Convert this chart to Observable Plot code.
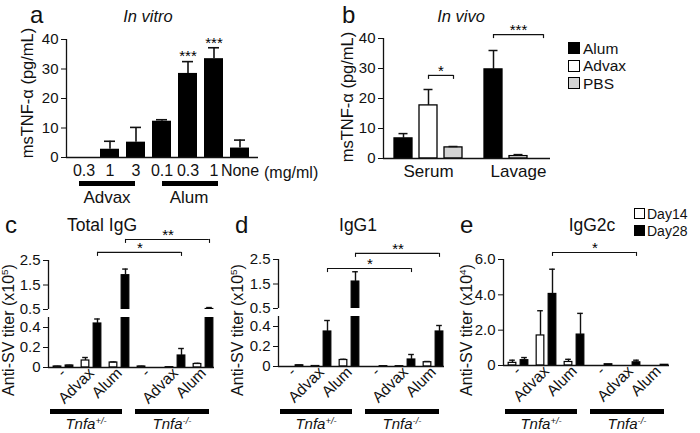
<!DOCTYPE html>
<html><head><meta charset="utf-8">
<script src="https://cdn.jsdelivr.net/npm/d3@7"></script>
<script src="https://cdn.jsdelivr.net/npm/@observablehq/plot@0.6"></script>
<style>
html,body{margin:0;padding:0;background:#fff;}
#fig{position:relative;width:700px;height:433px;overflow:hidden;background:#fff;font-family:"Liberation Sans",Arial,Helvetica,sans-serif;color:#111;}
#fig svg{position:absolute;left:0;top:0;}
.t{position:absolute;white-space:nowrap;line-height:0.9;}
.t sup{font-size:0.62em;vertical-align:0.55em;line-height:0;}
.sw{position:absolute;box-sizing:border-box;border:1.3px solid #000;}
.ul{position:absolute;background:#000;}
</style></head><body><div id="fig"></div>
<script>
// ---------------- data ----------------
// panel a (in vitro)
const aKeys = ["Advax 0.3", "Advax 1", "Advax 3", "Alum 0.1", "Alum 0.3", "Alum 1", "None"];
const aTickLabels = ["0.3", "1", "3", "0.1", "0.3", "1", "None"];
const aMean = [0, 2.8, 5.2, 12.3, 28.5, 33.5, 3.2];
const aErr = [0, 5.5, 10.2, 12.8, 32.5, 37.2, 5.9];
const aSig = ["", "", "", "", "***", "***", ""];

// panel b (in vivo)
const bSamples = ["Serum", "Lavage"];
const bAdjuvants = ["Alum", "Advax", "PBS"];
const bSerumMean = [6.7, 17.7, 3.7];
const bSerumErr = [8.3, 23.0, 4.0];
const bLavageMean = [29.7, 0.8, 0];
const bLavageErr = [36.0, 1.3, 0];
const bSig = [
  {sample: "Serum", from: "Advax", to: "PBS", y: 27.7, label: "*"},
  {sample: "Lavage", from: "Alum", to: "PBS", y: 41.3, label: "***"}
];

// panels c-e
const gKeys = ["+/- none", "+/- Advax", "+/- Alum", "-/- none", "-/- Advax", "-/- Alum"];
const gLabels = ["-", "Advax", "Alum", "-", "Advax", "Alum"];
const days = ["Day14", "Day28"];

const cDay14 = [0.01, 0.07, 0.05, 0.01, 0.003, 0.035];
const cDay14Err = [0.012, 0.10, 0.055, 0.012, 0.004, 0.042];
const cDay28 = [0.02, 0.44, 1.9, 0, 0.12, 0.52];
const cDay28Err = [0.022, 0.485, 2.15, 0, 0.19, 0.58];
const cSig = [
  {from: "+/- Advax", to: "-/- Advax", y: 2.83, label: "*"},
  {from: "+/- Alum", to: "-/- Alum", y: 3.36, label: "**"}
];

const dDay14 = [0, 0.005, 0.065, 0, 0.003, 0.043];
const dDay14Err = [0, 0.006, 0.072, 0, 0.004, 0.05];
const dDay28 = [0.012, 0.35, 1.6, 0.003, 0.07, 0.35];
const dDay28Err = [0.014, 0.46, 2.0, 0.004, 0.12, 0.41];
const dSig = [
  {from: "+/- Advax", to: "-/- Advax", y: 2.13, label: "*"},
  {from: "+/- Alum", to: "-/- Alum", y: 2.75, label: "**"}
];

const eDay14 = [0.15, 1.7, 0.2, 0, 0, 0];
const eDay14Err = [0.3, 3.1, 0.35, 0, 0, 0];
const eDay28 = [0.3, 4.05, 1.75, 0.07, 0.18, 0.04];
const eDay28Err = [0.45, 5.45, 2.95, 0.07, 0.3, 0.04];
const eSig = [
  {from: "+/- Advax", to: "-/- Advax", y: 6.4, label: "*"}
];

// ---------------- helpers ----------------
const W = 700, H = 433;
const FONT = '"Liberation Sans", Arial, Helvetica, sans-serif';
const fig = document.getElementById("fig");
const box = (l, t, r, b) => ({width: W, height: H, marginLeft: l, marginTop: t, marginRight: W - r, marginBottom: H - b});
const st = (fs = 15) => ({fontFamily: FONT, fontSize: fs + "px", color: "#111", background: "transparent", overflow: "visible"});
function add(node) { fig.appendChild(node); return node; }
function text(html, x, y, o = {}) {
  const d = document.createElement("div");
  d.className = "t";
  d.innerHTML = html;
  d.style.fontSize = (o.size || 15) + "px";
  if (o.italic) d.style.fontStyle = "italic";
  d.style.left = x + "px";
  d.style.top = y + "px";
  const tx = o.anchor === "start" ? "0%" : o.anchor === "end" ? "-100%" : "-50%";
  d.style.transform = `translate(${tx},-50%)` + (o.rotate ? ` rotate(${o.rotate}deg)` : "");
  fig.appendChild(d);
}
function block(cls, x, y, w, h, fill) {
  const d = document.createElement("div");
  d.className = cls;
  Object.assign(d.style, {left: x + "px", top: y + "px", width: w + "px", height: h + "px"});
  if (fill) d.style.background = fill;
  fig.appendChild(d);
}
function yAxis({left, top, right, bottom, domain, ticks, fmt, xLine}) {
  return Plot.plot({
    ...box(left, top, right, bottom), style: st(15),
    x: {domain: [0, 1], axis: null},
    y: {domain, axis: "left", ticks, tickFormat: fmt, tickSize: 5, tickPadding: 3, label: null},
    marks: [
      Plot.ruleX([0], {strokeWidth: 1.3}),
      xLine ? Plot.ruleY([domain[0]], {strokeWidth: 1.3}) : null
    ]
  });
}

// ---------------- panel a ----------------
const aData = aKeys.map((key, i) => ({key, mean: aMean[i], err: aErr[i], sig: aSig[i]}));
add(Plot.plot({
  ...box(66, 39, 258, 157), style: st(16),
  x: {type: "band", domain: aKeys, paddingInner: 0.26, paddingOuter: 0.2, label: null,
      tickSize: 0, tickPadding: 7, tickFormat: k => aTickLabels[aKeys.indexOf(k)]},
  y: {domain: [0, 40], axis: null},
  marks: [
    Plot.barY(aData.filter(d => d.mean > 0), {x: "key", y: "mean", fill: "#000"}),
    Plot.ruleX(aData.filter(d => d.err > d.mean), {x: "key", y1: "mean", y2: "err", strokeWidth: 1.6}),
    Plot.tickY(aData.filter(d => d.err > d.mean), {x: "key", y: "err", strokeWidth: 1.6, insetLeft: 4, insetRight: 4}),
    Plot.text(aData.filter(d => d.sig), {x: "key", y: "err", text: "sig", dy: -5, fontSize: 15, fill: "#000"})
  ]
}));
add(yAxis({left: 66, top: 39, right: 258, bottom: 157, domain: [0, 40], ticks: [0, 10, 20, 30, 40], fmt: d => String(d), xLine: true}));

// ---------------- panel b ----------------
const bData = [];
bSamples.forEach((s, si) => bAdjuvants.forEach((a, j) => bData.push({
  sample: s, adj: a, mean: (si ? bLavageMean : bSerumMean)[j], err: (si ? bLavageErr : bSerumErr)[j]
})));
const bL = 383, bR = 563, bBW = (bR - bL) / bSamples.length, bStep = 25, bBarW = 18, bCapW = 9;
const bFill = ["#000", "#fff", "#d4d4d4"];
const bCenter = j => bBW / 2 + (j - 1) * bStep;
const bMarks = [];
bAdjuvants.forEach((a, j) => {
  const dj = bData.filter(d => d.adj === a && d.mean > 0);
  const de = bData.filter(d => d.adj === a && d.err > d.mean);
  const il = bCenter(j) - bBarW / 2, ic = bCenter(j) - bCapW / 2;
  bMarks.push(
    Plot.barY(dj, {x: "sample", y: "mean", fill: bFill[j], stroke: "#000", strokeWidth: 1.3, insetLeft: il, insetRight: bBW - il - bBarW}),
    Plot.ruleX(de, {x: "sample", y1: "mean", y2: "err", dx: bCenter(j) - bBW / 2, strokeWidth: 1.5}),
    Plot.tickY(de, {x: "sample", y: "err", insetLeft: ic, insetRight: bBW - ic - bCapW, strokeWidth: 1.5})
  );
});
bSig.forEach(s => {
  const c0 = bCenter(bAdjuvants.indexOf(s.from)), c1 = bCenter(bAdjuvants.indexOf(s.to));
  bMarks.push(
    Plot.ruleY([s], {x1: "sample", x2: "sample", y: "y", insetLeft: c0, insetRight: bBW - c1, strokeWidth: 1.2}),
    Plot.ruleX([s], {x: "sample", y1: "y", y2: "y", dx: c0 - bBW / 2, insetBottom: -4, strokeWidth: 1.2}),
    Plot.ruleX([s], {x: "sample", y1: "y", y2: "y", dx: c1 - bBW / 2, insetBottom: -4, strokeWidth: 1.2}),
    Plot.text([s], {x: "sample", y: "y", text: "label", dx: (c0 + c1) / 2 - bBW / 2, dy: -4, fontSize: 15, fill: "#000"})
  );
});
add(Plot.plot({
  ...box(bL, 38, bR, 158), style: st(17),
  x: {type: "band", domain: bSamples, paddingInner: 0, paddingOuter: 0, label: null, tickSize: 0, tickPadding: 6},
  y: {domain: [0, 40], axis: null},
  marks: bMarks
}));
add(yAxis({left: 383, top: 38, right: 550, bottom: 158, domain: [0, 40], ticks: [0, 10, 20, 30, 40], fmt: d => String(d), xLine: true}));

// ---------------- panels c, d, e ----------------
function igPanel({left, right, axisEnd, d14, e14, d28, e28, sig, lower, upper, lowerTicks, lowerFmt, upperTicks, upperFmt}) {
  const bw = (right - left) / gKeys.length, off = 6, barW = 8, capW = 6;
  const rows = [];
  gKeys.forEach((g, i) => {
    rows.push({g, k: 0, mean: d14[i], err: e14[i]});
    rows.push({g, k: 1, mean: d28[i], err: e28[i]});
  });
  const cx = k => bw / 2 + (k ? off : -off);
  function dataMarks(part) {
    const base = part.domain[0], top = part.domain[1];
    const ms = [];
    [0, 1].forEach(k => {
      const il = cx(k) - barW / 2, ic = cx(k) - capW / 2;
      const bars = rows.filter(d => d.k === k && d.mean > base);
      const errs = rows.filter(d => d.k === k && d.err > d.mean && d.err > base);
      const caps = errs.filter(d => d.err > base && d.err <= top);
      ms.push(
        Plot.barY(bars, {x: "g", y1: () => base, y2: "mean", fill: k ? "#000" : "#fff", stroke: "#000", strokeWidth: 1.2,
          insetLeft: il, insetRight: bw - il - barW, clip: true}),
        Plot.ruleX(errs, {x: "g", y1: "mean", y2: "err", dx: cx(k) - bw / 2, strokeWidth: 1.4, clip: true}),
        Plot.tickY(caps, {x: "g", y: "err", insetLeft: ic, insetRight: bw - ic - capW, strokeWidth: 1.4})
      );
    });
    return ms;
  }
  function sigMarks() {
    const ms = [];
    sig.forEach(s => {
      const i0 = gKeys.indexOf(s.from), i1 = gKeys.indexOf(s.to);
      const c = cx(1);
      ms.push(
        Plot.ruleY([s], {x1: "from", x2: "to", y: "y", insetLeft: c, insetRight: bw - c, strokeWidth: 1.1}),
        Plot.ruleX([s], {x: "from", y1: "y", y2: "y", dx: off, insetBottom: -4, strokeWidth: 1.1}),
        Plot.ruleX([s], {x: "to", y1: "y", y2: "y", dx: off, insetBottom: -4, strokeWidth: 1.1}),
        Plot.text([s], {x: "from", y: "y", text: "label", dx: (i1 - i0) * bw / 2 + off, dy: -4, fontSize: 15, fill: "#000"})
      );
    });
    return ms;
  }
  const xLower = {type: "band", domain: gKeys, paddingInner: 0, paddingOuter: 0, label: null,
    tickRotate: -45, tickSize: 0, tickPadding: 3, tickFormat: g => gLabels[gKeys.indexOf(g)]};
  const xNone = {type: "band", domain: gKeys, paddingInner: 0, paddingOuter: 0, axis: null};
  add(Plot.plot({
    ...box(left, lower.top, right, lower.bottom), style: st(15.5),
    x: xLower, y: {domain: lower.domain, axis: null},
    marks: [...dataMarks(lower), ...(upper ? [] : sigMarks())]
  }));
  add(yAxis({left, top: lower.top, right: axisEnd, bottom: lower.bottom, domain: lower.domain, ticks: lowerTicks, fmt: lowerFmt, xLine: true}));
  if (upper) {
    add(Plot.plot({
      ...box(left, upper.top, right, upper.bottom), style: st(15),
      x: xNone, y: {domain: upper.domain, axis: null},
      marks: [...dataMarks(upper), ...sigMarks()]
    }));
    add(yAxis({left, top: upper.top, right: axisEnd, bottom: upper.bottom, domain: upper.domain, ticks: upperTicks, fmt: upperFmt, xLine: false}));
  }
}
const fmt1 = d => (d === 0 ? "0" : d.toFixed(1));
igPanel({left: 48, right: 218, axisEnd: 214, d14: cDay14, e14: cDay14Err, d28: cDay28, e28: cDay28Err, sig: cSig,
  lower: {domain: [0, 0.5], top: 317, bottom: 367}, upper: {domain: [0.5, 2.5], top: 260, bottom: 309},
  lowerTicks: [0, 0.2, 0.4], lowerFmt: fmt1, upperTicks: [0.5, 1.5, 2.5], upperFmt: d => d.toFixed(1)});
igPanel({left: 278, right: 448, axisEnd: 444, d14: dDay14, e14: dDay14Err, d28: dDay28, e28: dDay28Err, sig: dSig,
  lower: {domain: [0, 0.5], top: 316, bottom: 366}, upper: {domain: [0.5, 2.5], top: 259, bottom: 308},
  lowerTicks: [0, 0.2, 0.4], lowerFmt: fmt1, upperTicks: [0.5, 1.5, 2.5], upperFmt: d => d.toFixed(1)});
igPanel({left: 503, right: 673, axisEnd: 669, d14: eDay14, e14: eDay14Err, d28: eDay28, e28: eDay28Err, sig: eSig,
  lower: {domain: [0, 6], top: 259, bottom: 365}, upper: null,
  lowerTicks: [0, 2, 4, 6], lowerFmt: fmt1});

// ---------------- text annotations ----------------
text("a", 30, 15, {size: 24, anchor: "start"});
text("In vitro", 148, 16, {size: 16.5, italic: true});
text("msTNF-&alpha; (pg/mL)", 27, 93, {size: 16.5, rotate: -90});
text("(mg/ml)", 264, 173, {size: 16, anchor: "start"});
block("ul", 79, 181, 56, 5);
block("ul", 162, 181, 56, 5);
text("Advax", 107, 198, {size: 17});
text("Alum", 189, 198, {size: 17});

text("b", 342, 15, {size: 24, anchor: "start"});
text("In vivo", 461, 16, {size: 16.5, italic: true});
text("msTNF-&alpha; (pg/mL)", 347, 97, {size: 16.5, rotate: -90});
const legB = [["#000", "Alum"], ["#fff", "Advax"], ["#d4d4d4", "PBS"]];
legB.forEach(([c, name], i) => {
  block("sw", 568, 42 + i * 17.5, 12, 12, c);
  text(name, 583, 48.5 + i * 17.5, {size: 15.5, anchor: "start"});
});

const panels = [
  {letter: "c", lx: 5, title: "Total IgG", tx: 102, axis: 48, ylab: "Anti-SV titer (x10<sup>5</sup>)", yx: 9},
  {letter: "d", lx: 235, title: "IgG1", tx: 358, axis: 278, ylab: "Anti-SV titer (x10<sup>5</sup>)", yx: 238},
  {letter: "e", lx: 460, title: "IgG2c", tx: 592, axis: 503, ylab: "Anti-SV titer (x10<sup>4</sup>)", yx: 467}
];
panels.forEach(p => {
  text(p.letter, p.lx, 225, {size: 24, anchor: "start"});
  text(p.title, p.tx, 226, {size: 17.5});
  text(p.ylab, p.yx, 330, {size: 16, rotate: -90});
  block("ul", p.axis + 2, 409, 72, 5);
  block("ul", p.axis + 87, 409, 74, 5);
  text("Tnfa<sup>+/-</sup>", p.axis + 38, 424, {size: 15, italic: true});
  text("Tnfa<sup>-/-</sup>", p.axis + 124, 424, {size: 15, italic: true});
});
const legD = [["#fff", "Day14"], ["#000", "Day28"]];
legD.forEach(([c, name], i) => {
  block("sw", 634, 208 + i * 16.5, 11, 11, c);
  text(name, 647, 214 + i * 16.5, {size: 14, anchor: "start"});
});
</script></body></html>
